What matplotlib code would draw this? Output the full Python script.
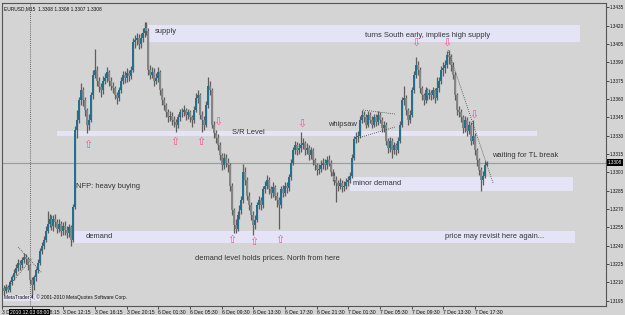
import numpy as np
import matplotlib.pyplot as plt
import matplotlib.transforms as mtransforms

plt.rcParams['font.family'] = ['Liberation Sans', 'DejaVu Sans']

# EURUSD M15 bars, pips above 1.3000
opens = [
    205, 203, 206, 204, 210, 214, 218, 222, 226, 224, 228, 231, 229, 224, 212,
    208, 214, 220, 226, 236, 240, 245, 252, 258, 262, 256, 262, 259, 254, 258, 252, 256, 253, 250, 255,
    245, 272,
    335, 343, 359, 367, 359, 351, 339, 343, 363, 380, 384, 375, 370, 367, 375, 377, 382, 375, 371, 369,
    363, 361, 367, 375, 380, 377, 381, 379,
    384, 407, 408, 410, 405, 410, 414, 418,
    416, 384, 380, 382, 375, 377, 382, 367, 359, 355, 349, 345, 346, 343, 341, 339, 345, 349, 349, 351,
    347, 349, 345, 343, 351, 361, 363, 347, 343, 339, 355, 371,
    367, 339, 332, 328, 322, 314, 306, 312, 308, 306, 289, 269, 257, 254, 265, 269, 277, 300, 294, 281,
    273, 265, 257, 261, 273, 277,
    273, 286, 289, 294, 286, 283, 288, 281, 277, 273, 286, 283, 289, 287, 296, 308, 318, 322, 318, 320,
    322, 324, 318, 320, 314, 318, 310, 306, 302, 303, 306, 308, 306, 310, 308, 300, 297, 294, 291, 289,
    291, 288, 289, 292, 294,
    297, 312, 327, 329, 330, 343, 347, 345, 339, 347, 343, 339, 345, 341, 347, 343, 336, 339, 326, 320,
    326, 318, 322, 318,
    326, 339, 359, 361, 351, 343, 347, 367, 380, 388, 384, 369, 363, 359, 367, 363, 365, 363, 367, 361,
    369, 375, 384, 385, 388, 396, 394, 388,
    380, 363, 351, 349, 345, 336, 343, 334, 339, 326, 330, 318, 310, 302, 294, 297, 306,
]
closes = [
    203, 206, 204, 210, 214, 218, 222, 226, 224, 228, 231, 229, 224, 212, 208,
    214, 220, 226, 236, 240, 245, 252, 258, 262, 256, 262, 259, 254, 258, 252, 256, 253, 250, 255, 245,
    272, 335,
    343, 359, 367, 359, 351, 339, 343, 363, 380, 384, 375, 370, 367, 375, 377, 382, 375, 371, 369, 363,
    361, 367, 375, 380, 377, 381, 379, 384,
    407, 408, 410, 405, 410, 414, 418, 416,
    384, 380, 382, 375, 377, 382, 367, 359, 355, 349, 345, 346, 343, 341, 339, 345, 349, 349, 351, 347,
    349, 345, 343, 351, 361, 363, 347, 343, 339, 355, 371, 367,
    339, 332, 328, 322, 314, 306, 312, 308, 306, 289, 269, 257, 254, 265, 269, 277, 300, 294, 281, 273,
    265, 257, 261, 273, 277, 273,
    286, 289, 294, 286, 283, 288, 281, 277, 273, 286, 283, 289, 287, 296, 308, 318, 322, 318, 320, 322,
    324, 318, 320, 314, 318, 310, 306, 302, 303, 306, 308, 306, 310, 308, 300, 297, 294, 291, 289, 291,
    288, 289, 292, 294, 297,
    312, 327, 329, 330, 343, 347, 345, 339, 347, 343, 339, 345, 341, 347, 343, 336, 339, 326, 320, 326,
    318, 322, 318, 326,
    339, 359, 361, 351, 343, 347, 367, 380, 388, 384, 369, 363, 359, 367, 363, 365, 363, 367, 361, 369,
    375, 384, 385, 388, 396, 394, 388, 380,
    363, 351, 349, 345, 336, 343, 334, 339, 326, 330, 318, 310, 302, 294, 297, 306, 308,
]
highs = [
    208, 209, 208, 212, 216, 221, 225, 229, 228, 231, 234, 233, 231, 226, 214,
    216, 222, 229, 238, 243, 248, 256, 268, 266, 265, 265, 266, 262, 262, 260, 259, 260, 256, 258, 257,
    274, 338,
    351, 362, 373, 370, 362, 353, 348, 366, 384, 401, 387, 378, 373, 379, 381, 386, 384, 378, 374, 371,
    366, 370, 378, 383, 383, 385, 384, 387,
    410, 412, 414, 413, 414, 418, 423, 423,
    418, 388, 386, 385, 381, 386, 384, 369, 362, 357, 352, 350, 349, 346, 344, 348, 352, 353, 355, 353,
    352, 351, 347, 354, 365, 367, 365, 350, 346, 358, 378, 375,
    369, 342, 335, 331, 325, 316, 316, 315, 312, 308, 291, 271, 262, 268, 273, 281, 307, 304, 296, 284,
    276, 268, 265, 276, 281, 280,
    289, 293, 298, 296, 289, 292, 290, 284, 280, 289, 290, 292, 292, 299, 311, 321, 326, 325, 324, 333,
    328, 326, 324, 322, 321, 320, 312, 308, 307, 310, 312, 311, 313, 314, 310, 303, 300, 297, 294, 295,
    294, 293, 295, 297, 300,
    315, 330, 333, 334, 346, 351, 350, 348, 350, 349, 346, 348, 348, 350, 349, 345, 342, 341, 328, 329,
    328, 325, 324, 329,
    342, 362, 371, 363, 353, 351, 370, 383, 394, 391, 386, 371, 365, 370, 369, 368, 367, 370, 369, 378,
    378, 387, 390, 392, 399, 400, 397, 390,
    382, 365, 354, 352, 347, 346, 345, 342, 341, 343, 332, 320, 312, 304, 301, 309, 309,
]
lows = [
    200, 201, 202, 202, 208, 212, 216, 219, 220, 222, 226, 225, 220, 209, 198,
    204, 211, 218, 224, 233, 237, 243, 250, 255, 253, 252, 255, 250, 251, 248, 249, 249, 246, 247, 240,
    243, 270,
    328, 340, 355, 354, 346, 332, 335, 341, 360, 377, 371, 366, 362, 364, 372, 374, 371, 367, 365, 360,
    356, 358, 365, 372, 373, 374, 375, 376,
    382, 402, 404, 401, 402, 407, 411, 412,
    380, 376, 377, 371, 372, 374, 363, 355, 351, 345, 341, 342, 339, 337, 333, 336, 342, 345, 346, 343,
    344, 341, 337, 340, 349, 357, 344, 333, 335, 337, 353, 363,
    336, 328, 324, 318, 310, 302, 303, 304, 300, 285, 265, 250, 250, 252, 262, 266, 275, 290, 277, 269,
    261, 249, 254, 259, 270, 269,
    271, 283, 286, 282, 279, 280, 277, 272, 254, 271, 280, 281, 283, 285, 294, 306, 315, 314, 315, 317,
    319, 314, 315, 310, 311, 306, 302, 298, 299, 300, 303, 302, 303, 305, 297, 293, 290, 276, 285, 286,
    284, 285, 286, 289, 291,
    295, 310, 324, 325, 328, 340, 341, 336, 337, 340, 336, 337, 338, 339, 340, 333, 333, 322, 316, 317,
    312, 315, 314, 316,
    324, 337, 355, 347, 339, 340, 345, 365, 377, 380, 365, 359, 355, 357, 359, 360, 359, 360, 357, 359,
    366, 372, 379, 381, 385, 389, 383, 376,
    359, 347, 345, 341, 332, 333, 330, 331, 322, 323, 314, 305, 298, 285, 290, 295, 305,
]

price_ticks = [1.3435, 1.3420, 1.3405, 1.3390, 1.3375, 1.3360, 1.3345, 1.3330, 1.3315,
               1.3300, 1.3285, 1.3270, 1.3255, 1.3240, 1.3225, 1.3210, 1.3195]
time_ticks = [-1, 14, 30, 46, 62, 78, 94, 110, 126, 142, 158, 174, 190, 206, 222, 238]
time_labels = ['3 Dec 2010', '3 Dec 08:15', '3 Dec 12:15', '3 Dec 16:15', '3 Dec 20:15',
               '6 Dec 01:30', '6 Dec 05:30', '6 Dec 09:30', '6 Dec 13:30', '6 Dec 17:30',
               '6 Dec 21:30', '7 Dec 01:30', '7 Dec 05:30', '7 Dec 09:30', '7 Dec 13:30',
               '7 Dec 17:30']
last_price = 1.3308

# zones: (first bar, last bar, low, high)
zones = [(72.8, 291, 1.34069, 1.34205),   # supply
         (26.8, 269.3, 1.33297, 1.33342), # S/R level
         (174.8, 287.5, 1.32850, 1.32962),# minor demand
         (34.9, 288.5, 1.32420, 1.32523), # demand
         (-2, 18.2, 1.31948, 1.31997)]

notes = [('supply', 76.3, 1.34156), ('S/R Level', 115.2, 1.33322),
         ('whipsaw', 163.7, 1.33395), ('turns South early, implies high supply', 182.4, 1.34123),
         ('waiting for TL break', 246.6, 1.33134), ('minor demand', 176.4, 1.32905),
         ('NFP: heavy buying', 36.4, 1.32888), ('demand', 41.4, 1.32479),
         ('demand level holds prices. North from here', 96.5, 1.32299),
         ('price may revisit here again...', 222.8, 1.32479)]

up_arrows = [(42.4, 1.33225), (86.4, 1.3325), (99.5, 1.3325), (115.2, 1.32446),
             (126.3, 1.3243), (139.5, 1.32446)]
down_arrows = [(108.1, 1.33412), (150.6, 1.33395), (208.2, 1.34058), (223.8, 1.34058),
               (237.5, 1.33469)]

# dotted trend lines: (bar0, price0, bar1, price1)
trendlines = [(7.1, 1.32389, 19.2, 1.32177), (2.0, 1.32061, 14.2, 1.32298),
              (181.4, 1.33510, 197.6, 1.33477), (178.9, 1.33281, 197.6, 1.33371),
              (224.4, 1.34001, 247.1, 1.32913)]

bg = '#d4d4d4'
fig = plt.figure(figsize=(6.25, 3.15), dpi=100, facecolor=bg)
ax = fig.add_axes([2/625, 9/315, 604/625, 303/315])
ax.set_facecolor(bg)

o = 1.3 + np.array(opens) / 10000
c = 1.3 + np.array(closes) / 10000
h = 1.3 + np.array(highs) / 10000
l = 1.3 + np.array(lows) / 10000
idx = np.arange(len(c))

for x0, x1, y0, y1 in zones:
    ax.fill_between([x0, x1], y0, y1, color='#e4e4f6', lw=0, zorder=1)

ax.axhline(last_price, color='#98a0a0', lw=0.9, zorder=1.5)
ax.axvline(13, color='#404040', lw=0.6, ls=(0, (1, 1.5)), zorder=1.5)

ax.vlines(idx, l, h, color='#5e5e5e', lw=0.9, zorder=2)
bull = c >= o
body_lo = np.minimum(o, c)
body_h = np.maximum(np.abs(c - o), 0.00003)
ax.bar(idx, body_h, bottom=body_lo, width=1.0,
       color=np.where(bull, '#22708e', '#858585'), lw=0, zorder=3)

for x0, y0, x1, y1 in trendlines:
    ax.plot([x0, x1], [y0, y1], color='#404040', lw=0.6, ls=(0, (1, 1.5)), zorder=4)

for txt, x, y in notes:
    ax.text(x, y, txt, fontsize=5.4, color='#333333', va='center', ha='left', zorder=5)
for x, y in up_arrows:
    ax.text(x, y, '\u21e7', fontsize=8, color='#ff4fa0', ha='center', va='center', zorder=5)
for x, y in down_arrows:
    ax.text(x, y, '\u21e9', fontsize=8, color='#ff4fa0', ha='center', va='center', zorder=5)

ax.set_xlim(-1.01, 304.2)
ax.set_ylim(1.319066, 1.343852)

ax.yaxis.tick_right()
ax.set_yticks(price_ticks)
ax.set_yticklabels(['%.4f' % p for p in price_ticks])
ax.tick_params(axis='y', length=2, width=0.5, pad=1, labelsize=3.3, colors='#111111')
ax.set_xticks(time_ticks)
ax.set_xticklabels(time_labels)
ax.tick_params(axis='x', length=2, width=0.5, pad=1, labelsize=3.7, colors='#111111')
for lab in ax.get_xticklabels():
    lab.set_ha('left')
for s in ax.spines.values():
    s.set_color('#555555')
    s.set_linewidth(0.8)

trans = mtransforms.blended_transform_factory(ax.transData, ax.transAxes)
ax.text(13, -0.012, '2010.12.03 08:00', transform=trans, fontsize=3.6, color='white',
        ha='center', va='top', zorder=10, clip_on=False,
        bbox=dict(boxstyle='square,pad=0.15', fc='black', ec='none'))
ytrans = mtransforms.blended_transform_factory(ax.transAxes, ax.transData)
ax.text(1.003, last_price, '%.4f' % last_price, transform=ytrans, fontsize=3.3, color='white',
        ha='left', va='center', zorder=10, clip_on=False,
        bbox=dict(boxstyle='square,pad=0.15', fc='black', ec='none'))

ax.text(0.003, 0.99, 'EURUSD,M15  1.3308 1.3308 1.3307 1.3308', transform=ax.transAxes,
        fontsize=3.5, color='#111111', ha='left', va='top')
ax.text(0.003, 0.02, 'MetaTrader 4, \u00a9 2001-2010 MetaQuotes Software Corp.',
        transform=ax.transAxes, fontsize=3.5, color='#111111', ha='left', va='bottom', zorder=6)

fig.savefig('out.png', dpi=100, facecolor=bg)
